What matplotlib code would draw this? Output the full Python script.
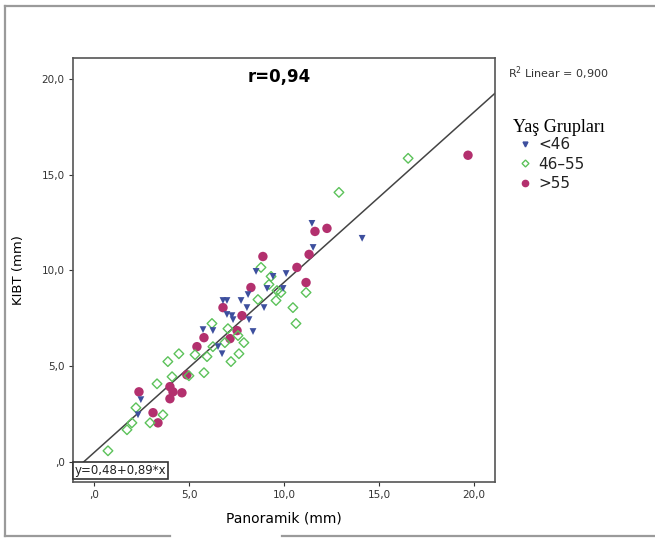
import numpy as np
import matplotlib.pyplot as plt
from matplotlib.lines import Line2D

# values (mm)
grp1_x = [2.47, 2.32, 5.74, 6.26, 6.53, 6.74, 7.32, 8.16, 8.37, 6.79, 7.00, 7.74, 8.05,
          8.95, 7.00, 7.26, 8.53, 8.11, 9.11, 9.42, 9.95, 10.11, 11.47, 11.53, 14.11]
grp1_y = [3.25, 2.46, 6.91, 6.86, 6.02, 5.65, 7.43, 7.43, 6.81, 8.43, 8.43, 8.43, 8.06,
          8.06, 7.70, 7.64, 9.95, 8.74, 9.06, 9.69, 9.06, 9.84, 12.46, 11.20, 11.68]

grp2_x = [0.74, 1.74, 2.00, 2.21, 2.95, 3.63, 3.32, 4.11, 3.89, 4.47, 5.00, 5.32, 5.79,
          5.95, 6.26, 6.21, 6.89, 7.21, 7.58, 7.89, 7.63, 7.05, 8.63, 8.79, 9.32, 9.21,
          9.63, 9.84, 9.58, 11.16, 10.47, 10.63, 12.89, 16.53]
grp2_y = [0.58, 1.68, 2.04, 2.83, 2.04, 2.46, 4.08, 4.45, 5.24, 5.65, 4.50, 5.60, 4.66,
          5.50, 6.02, 7.23, 6.23, 5.24, 6.60, 6.23, 5.65, 6.96, 8.48, 10.16, 9.69, 9.27,
          8.95, 8.85, 8.43, 8.85, 8.06, 7.23, 14.08, 15.86]

grp3_x = [2.37, 3.11, 3.37, 4.00, 4.16, 4.00, 4.63, 4.89, 5.42, 5.79, 7.16, 7.53, 6.79,
          7.79, 8.26, 8.89, 10.68, 11.16, 11.32, 11.63, 12.26, 19.68]
grp3_y = [3.66, 2.57, 2.04, 3.93, 3.66, 3.30, 3.61, 4.55, 6.02, 6.49, 6.44, 6.86, 8.06,
          7.64, 9.11, 10.73, 10.16, 9.37, 10.84, 12.04, 12.20, 16.02]

group_labels = ['<46', '46\u201355', '>55']
intercept, slope = 0.48, 0.89
ticks = [0, 5, 10, 15, 20]
tick_labels = [',0', '5,0', '10,0', '15,0', '20,0']

blue = '#3d4f9e'
green = '#5cc25a'
magenta = '#b3306e'

fig = plt.figure(figsize=(6.55, 5.39), dpi=100)
ax = fig.add_axes([73 / 655, 1 - 482 / 539, 422 / 655, 424 / 539])

lims = (-1.1, 21.1)
ax.set_xlim(lims)
ax.set_ylim(-1.05, 21.1)

xx = np.array(lims)
ax.plot(xx, intercept + slope * xx, color='#444444', lw=1.1, zorder=1)

ax.scatter(grp2_x, grp2_y, marker='D', s=24, facecolors='none', edgecolors=green,
           linewidths=1.0, zorder=3)
ax.scatter(grp3_x, grp3_y, marker='o', s=46, color=magenta, edgecolors='none', zorder=2)
ax.scatter(grp1_x, grp1_y, marker='v', s=24, color=blue, edgecolors='none', zorder=4)

ax.set_xticks(ticks)
ax.set_xticklabels(tick_labels)
ax.set_yticks(ticks)
ax.set_yticklabels(tick_labels)
ax.tick_params(labelsize=7.5, labelcolor='#333333', length=3, color='#333333', pad=3)
for s in ax.spines.values():
    s.set_color('#555555')
    s.set_linewidth(1.2)

ax.set_xlabel('Panoramik (mm)', fontsize=10, labelpad=8)
ax.set_ylabel('KIBT (mm)', fontsize=9.5, labelpad=12)

ax.text(0.488, 0.955, 'r=0,94', transform=ax.transAxes, ha='center', va='center',
        fontsize=12, fontweight='bold')
ax.text(0.004, 0.012, 'y=0,48+0,89*x', transform=ax.transAxes, ha='left', va='bottom',
        fontsize=8.5, color='#222222',
        bbox=dict(boxstyle='square,pad=0.15', fc='white', ec='#333333', lw=1.2))

# right-hand annotations and legend
fig.text(508 / 655, 1 - 73 / 539, r'R$^2$ Linear = 0,900', fontsize=8, color='#333333',
         ha='left', va='center')
fig.text(513 / 655, 1 - 127 / 539, 'Yaş Grupları', fontsize=13, family='Liberation Serif',
         ha='left', va='center')
handles = [
    Line2D([], [], marker='v', ls='none', color=blue, ms=3.5),
    Line2D([], [], marker='D', ls='none', mfc='none', mec=green, ms=3.5, mew=1),
    Line2D([], [], marker='o', ls='none', color=magenta, ms=4.5),
]
leg = fig.legend(handles, group_labels, loc='upper left',
                 bbox_to_anchor=(520 / 655, 1 - 137 / 539), frameon=False,
                 fontsize=11, handlelength=0.6, handletextpad=0.6, labelspacing=0.3,
                 borderaxespad=0, borderpad=0)
for t in leg.get_texts():
    t.set_color('#222222')

# outer frame of the chart
fc = '#9a9a9a'
def fline(x0, y0, x1, y1):
    fig.add_artist(Line2D([x0 / 655, x1 / 655], [1 - y0 / 539, 1 - y1 / 539],
                          color=fc, lw=1.6, transform=fig.transFigure))
fline(5, 6, 655, 6)
fline(5, 6, 5, 536)
fline(5, 536, 170, 536)
fline(282, 536, 655, 536)

fig.savefig('out.png', dpi=100)
